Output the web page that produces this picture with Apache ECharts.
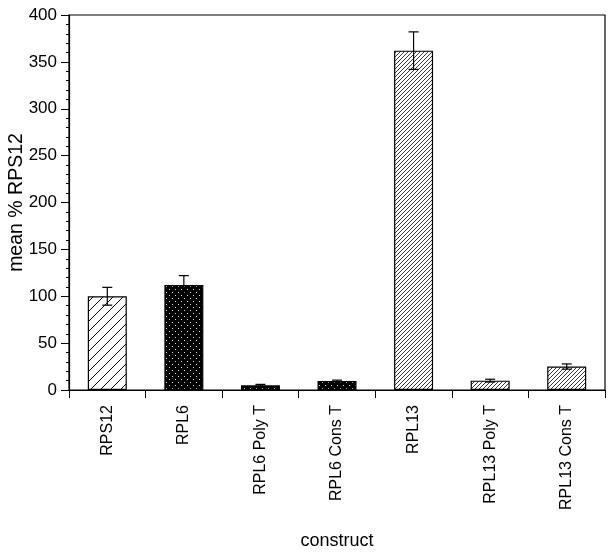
<!DOCTYPE html>
<html>
<head>
<meta charset="utf-8">
<script src="https://cdn.jsdelivr.net/npm/echarts@6/dist/echarts.min.js"></script>
<style>
  html, body { margin: 0; padding: 0; background: #fff; }
  #chart { width: 614px; height: 555px; }
</style>
</head>
<body>
<div id="chart"></div>
<script>
const categories = ['RPS12', 'RPL6', 'RPL6 Poly T', 'RPL6 Cons T', 'RPL13', 'RPL13 Poly T', 'RPL13 Cons T'];
const meanValues = [100, 112, 5, 9.5, 362, 10, 25];
const errorValues = [9.5, 10, 1, 1, 20, 1.5, 2.8];
const yTicks = [0, 50, 100, 150, 200, 250, 300, 350, 400];

const FONT = '"Liberation Sans", Arial, sans-serif';

// fill patterns
function hatch(size, width, color)
{
    const c = document.createElement('canvas');
    c.width = size; c.height = size;
    const ctx = c.getContext('2d');
    ctx.fillStyle = '#fff';
    ctx.fillRect(0, 0, size, size);
    ctx.strokeStyle = color;
    ctx.lineWidth = width;
    ctx.beginPath();
    ctx.moveTo(-1, size + 1); ctx.lineTo(size + 1, -1);
    ctx.moveTo(-1, 1); ctx.lineTo(1, -1);
    ctx.moveTo(size - 1, size + 1); ctx.lineTo(size + 1, size - 1);
    ctx.stroke();
    return c;
}

function dots()
{
    const c = document.createElement('canvas');
    c.width = 6; c.height = 6;
    const ctx = c.getContext('2d');
    ctx.fillStyle = '#000';
    ctx.fillRect(0, 0, 6, 6);
    ctx.fillStyle = '#ddd';
    ctx.fillRect(1, 1, 1, 1);
    ctx.fillRect(4, 4, 1, 1);
    return c;
}

const wide = {image: hatch(10, 1, '#000'), repeat: 'repeat'};
const dotted = {image: dots(), repeat: 'repeat'};
const dense = {image: hatch(4, 0.9, '#222'), repeat: 'repeat'};
const barFills = [wide, dotted, dotted, dotted, dense, dense, dense];

const chart = echarts.init(document.getElementById('chart'));
chart.setOption({
    animation: false,
    grid: {
        left: 69, right: 9, top: 15, bottom: 165,
        outerBoundsMode: 'none',
        containLabel: false,
        show: true, borderColor: '#000', borderWidth: 1.2
    },
    xAxis: {
        type: 'category',
        data: categories,
        name: 'construct',
        nameLocation: 'middle',
        nameGap: 142,
        nameTextStyle: {fontSize: 18, color: '#000', fontFamily: FONT},
        axisLine: {lineStyle: {color: '#000', width: 1.2}},
        axisTick: {show: true, interval: 0, length: 8, lineStyle: {color: '#000'}},
        axisLabel: {rotate: 90, interval: 0, margin: 15, fontSize: 16, color: '#000', fontFamily: FONT}
    },
    yAxis: {
        type: 'value',
        min: yTicks[0],
        max: yTicks[yTicks.length - 1],
        interval: yTicks[1] - yTicks[0],
        name: 'mean % RPS12',
        nameLocation: 'middle',
        nameGap: 42,
        nameMoveOverlap: false,
        nameTextStyle: {fontSize: 19.5, color: '#000', fontFamily: FONT},
        axisLine: {show: true, lineStyle: {color: '#000', width: 1.2}},
        axisTick: {show: true, length: 8, lineStyle: {color: '#000'}},
        minorTick: {show: true, splitNumber: 5, length: 3, lineStyle: {color: '#000'}},
        splitLine: {show: false},
        axisLabel: {margin: 12, fontSize: 17, color: '#000', fontFamily: FONT}
    },
    series: [
        {
            type: 'bar',
            barWidth: 39,
            data: meanValues.map((v, i) => ({
                value: v,
                itemStyle: {color: barFills[i], borderColor: '#000', borderWidth: 1.2}
            })),
            z: 2
        },
        {
            type: 'custom',
            z: 5,
            data: meanValues.map((v, i) => [i, v - errorValues[i], v + errorValues[i]]),
            renderItem: function (params, api) {
                const lo = api.coord([api.value(0), api.value(1)]);
                const hi = api.coord([api.value(0), api.value(2)]);
                const half = 5;
                const style = {stroke: '#000', lineWidth: 1.2};
                return {
                    type: 'group',
                    children: [
                        {type: 'line', shape: {x1: hi[0], y1: hi[1], x2: lo[0], y2: lo[1]}, style: style},
                        {type: 'line', shape: {x1: hi[0] - half, y1: hi[1], x2: hi[0] + half, y2: hi[1]}, style: style},
                        {type: 'line', shape: {x1: lo[0] - half, y1: lo[1], x2: lo[0] + half, y2: lo[1]}, style: style}
                    ]
                };
            }
        }
    ]
});
</script>
</body>
</html>
